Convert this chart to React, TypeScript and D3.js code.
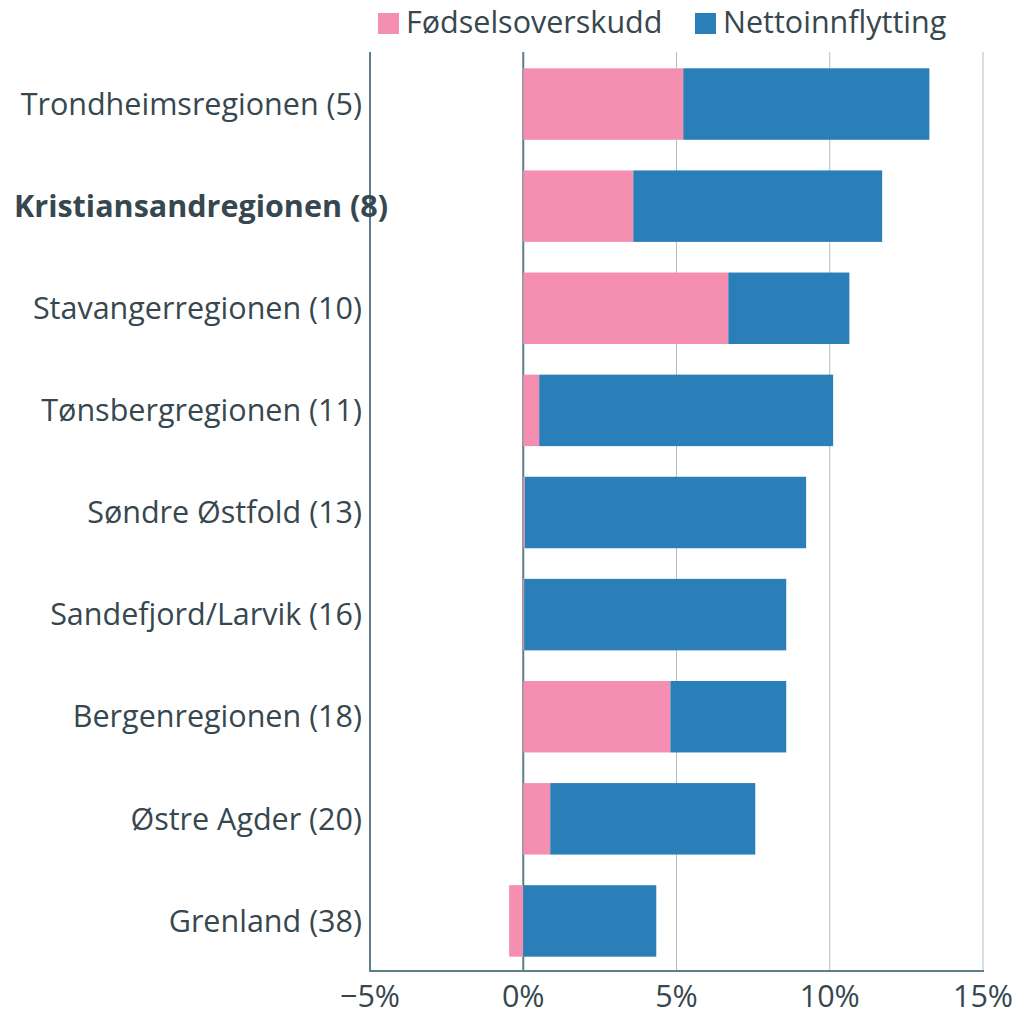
import React, { useRef, useEffect } from "react";
import * as d3 from "d3";

// regions, ranked by growth (rank in parentheses)
const regions = [
  "Trondheimsregionen (5)",
  "Kristiansandregionen (8)",
  "Stavangerregionen (10)",
  "Tønsbergregionen (11)",
  "Søndre Østfold (13)",
  "Sandefjord/Larvik (16)",
  "Bergenregionen (18)",
  "Østre Agder (20)",
  "Grenland (38)",
];
const highlighted = "Kristiansandregionen (8)";

// percent
const fodselsoverskudd = [5.22, 3.59, 6.69, 0.52, 0.05, 0.03, 4.8, 0.88, -0.46];
const nettoinnflytting = [8.03, 8.12, 3.95, 9.59, 9.18, 8.55, 3.78, 6.69, 4.34];

const seriesNames = ["Fødselsoverskudd", "Nettoinnflytting"];
const xTicks = [-5, 0, 5, 10, 15];

const W = 1017;
const H = 1010;
const colors = ["#f48fb1", "#2a7fb8"];
const textColor = "#37474f";
const axisColor = "#607d8b";
const gridColor = "#b0bec5";

export default function App() {
  const svgRef = useRef<SVGSVGElement>(null);

  useEffect(() => {
    const svg = d3.select(svgRef.current);
    svg.selectAll("*").remove();

    const x = d3.scaleLinear().domain([-5, 15]).range([370, 983]);
    const y = d3.scaleBand().domain(regions).range([53, 972]).paddingInner(0.3).paddingOuter(0.15);
    const top = 52;
    const bottom = 971;

    // gridlines
    svg.append("g")
      .selectAll("line")
      .data(xTicks.filter((t) => t > 0))
      .join("line")
      .attr("x1", (d) => x(d)).attr("x2", (d) => x(d))
      .attr("y1", top).attr("y2", bottom)
      .attr("stroke", gridColor).attr("stroke-width", 1);

    // zero line
    svg.append("line")
      .attr("x1", x(0)).attr("x2", x(0))
      .attr("y1", top).attr("y2", bottom)
      .attr("stroke", axisColor).attr("stroke-width", 2);

    // stacked bars: positive parts stack from zero, negatives go left
    const rows = regions.map((r, i) => {
      const f = fodselsoverskudd[i];
      const n = nettoinnflytting[i];
      const segs: { s: number; x0: number; x1: number }[] = [];
      let pos = 0;
      let neg = 0;
      [f, n].forEach((v, s) => {
        if (v >= 0) { segs.push({ s, x0: pos, x1: pos + v }); pos += v; }
        else { segs.push({ s, x0: neg + v, x1: neg }); neg += v; }
      });
      return { r, segs };
    });

    const g = svg.append("g");
    rows.forEach((row) => {
      g.selectAll(null)
        .data(row.segs)
        .join("rect")
        .attr("x", (d) => x(d.x0))
        .attr("width", (d) => x(d.x1) - x(d.x0))
        .attr("y", y(row.r)!)
        .attr("height", y.bandwidth())
        .attr("fill", (d) => colors[d.s]);
    });

    // axes lines
    svg.append("line")
      .attr("x1", 370).attr("x2", 370).attr("y1", top).attr("y2", bottom + 1)
      .attr("stroke", axisColor).attr("stroke-width", 2);
    svg.append("line")
      .attr("x1", 369).attr("x2", 984).attr("y1", bottom).attr("y2", bottom)
      .attr("stroke", axisColor).attr("stroke-width", 2);

    // category labels
    svg.append("g")
      .selectAll("text")
      .data(regions)
      .join("text")
      .attr("x", (d) => (d === highlighted ? 388 : 362))
      .attr("y", (d) => y(d)! + y.bandwidth() / 2)
      .attr("dy", "0.35em")
      .attr("text-anchor", "end")
      .attr("font-weight", (d) => (d === highlighted ? "bold" : "normal"))
      .attr("fill", textColor)
      .text((d) => d);

    // x tick labels
    svg.append("g")
      .selectAll("text")
      .data(xTicks)
      .join("text")
      .attr("x", (d) => x(d))
      .attr("y", 1007)
      .attr("text-anchor", "middle")
      .attr("fill", textColor)
      .text((d) => (d < 0 ? "\u2212" + Math.abs(d) : d) + "%");

    // legend
    const legend = svg.append("g");
    const lx = [378, 695];
    seriesNames.forEach((name, i) => {
      legend.append("rect")
        .attr("x", lx[i]).attr("y", 13).attr("width", 21).attr("height", 21)
        .attr("fill", colors[i]);
      legend.append("text")
        .attr("x", lx[i] + 28).attr("y", 22).attr("dy", "0.35em")
        .attr("fill", textColor)
        .text(name);
    });
  }, []);

  return (
    <svg
      ref={svgRef}
      width={W}
      height={H}
      style={{ position: "absolute", left: 0, top: 0, fontFamily: "'Open Sans', sans-serif", fontSize: 30.5 }}
    />
  );
}
